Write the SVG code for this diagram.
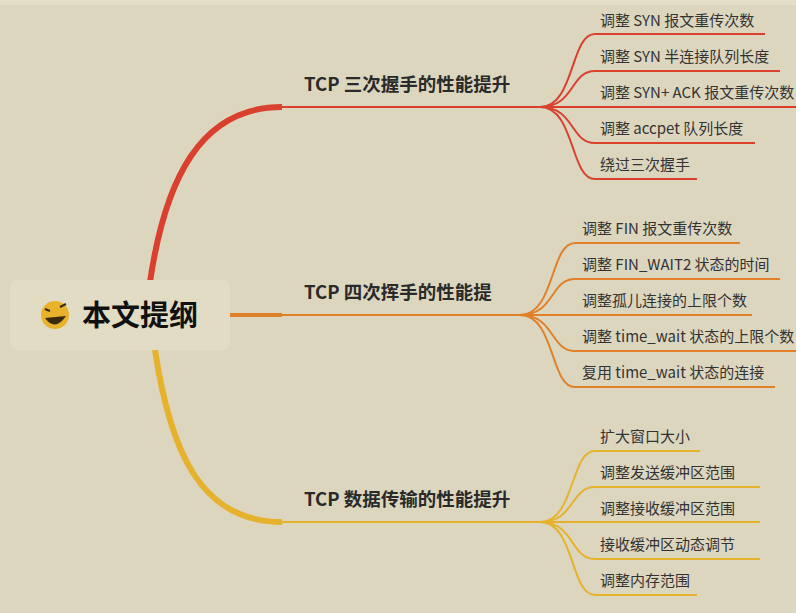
<svg xmlns="http://www.w3.org/2000/svg" width="796" height="613" viewBox="0 0 796 613">
<style>
.t{font-family:"Noto Sans CJK SC","Noto Sans",sans-serif;font-size:15px;fill:#333}
.h{font-family:"Noto Sans CJK SC","Noto Sans",sans-serif;font-size:18.5px;font-weight:bold;fill:#2a2a2a}
.r{stroke:#d9412e;fill:none;stroke-width:2}
.o{stroke:#e0812a;fill:none;stroke-width:2}
.y{stroke:#e6b22e;fill:none;stroke-width:2}
</style>
<rect width="796" height="613" fill="#ddd6bf"/>
<rect width="796" height="5" fill="#e4dec9"/>
<g id="connectors">
<path d="M150 282 C165 180 200 107 282 107" stroke="#d9412e" fill="none" stroke-width="6"/>
<path d="M282 107 H540" class="r"/>
<path d="M230 315 H282" stroke="#e0812a" stroke-width="4" fill="none"/>
<path d="M282 315 H520" class="o"/>
<path d="M155 350 C170 450 200 522 282 522" stroke="#e6b22e" fill="none" stroke-width="6"/>
<path d="M282 522 H540" class="y"/>
<path class="r" d="M540 107 C575 107 570 34 595 34 H765 M540 107 C575 107 570 71 595 71 H780 M540 107 H796 M540 107 C575 107 570 143 595 143 H755 M540 107 C575 107 570 179 595 179 H697"/>
<path class="o" d="M520 315 C555 315 550 243 575 243 H740 M520 315 C555 315 550 279 575 279 H780 M520 315 H752 M520 315 C555 315 550 351 575 351 H796 M520 315 C555 315 550 387 575 387 H775"/>
<path class="y" d="M540 522 C575 522 570 451 595 451 H700 M540 522 C575 522 570 487 595 487 H760 M540 522 H760 M540 522 C575 522 570 559 595 559 H760 M540 522 C575 522 570 595 595 595 H697"/>
</g>
<g id="root">
<rect x="10" y="280" width="220" height="70" rx="8" fill="#e3dcc4"/>
<circle cx="55" cy="315" r="14" fill="#e8b22c"/>
<path d="M45 318 Q55 332 66 316 Z" fill="#3a2a10"/>
<path d="M45 309 l5 2 M60 307 l6 -3" stroke="#3a2a10" stroke-width="2"/>
<text x="82" y="326" font-family="Noto Sans CJK SC,sans-serif" font-size="29" font-weight="bold" fill="#111">本文提纲</text>
</g>
<g id="b1"><text class="h" x="304" y="91">TCP 三次握手的性能提升</text></g>
<g id="b1c">
<text class="t" x="600" y="26">调整 SYN 报文重传次数</text>
<text class="t" x="600" y="62">调整 SYN 半连接队列长度</text>
<text class="t" x="600" y="98">调整 SYN+ ACK 报文重传次数</text>
<text class="t" x="600" y="134">调整 accpet 队列长度</text>
<text class="t" x="600" y="170">绕过三次握手</text>
</g>
<g id="b2"><text class="h" x="304" y="299">TCP 四次挥手的性能提</text></g>
<g id="b2c">
<text class="t" x="582" y="234">调整 FIN 报文重传次数</text>
<text class="t" x="582" y="270">调整 FIN_WAIT2 状态的时间</text>
<text class="t" x="582" y="306">调整孤儿连接的上限个数</text>
<text class="t" x="582" y="342">调整 time_wait 状态的上限个数</text>
<text class="t" x="582" y="378">复用 time_wait 状态的连接</text>
</g>
<g id="b3"><text class="h" x="304" y="506">TCP 数据传输的性能提升</text></g>
<g id="b3c">
<text class="t" x="600" y="442">扩大窗口大小</text>
<text class="t" x="600" y="478">调整发送缓冲区范围</text>
<text class="t" x="600" y="514">调整接收缓冲区范围</text>
<text class="t" x="600" y="550">接收缓冲区动态调节</text>
<text class="t" x="600" y="586">调整内存范围</text>
</g>
</svg>
